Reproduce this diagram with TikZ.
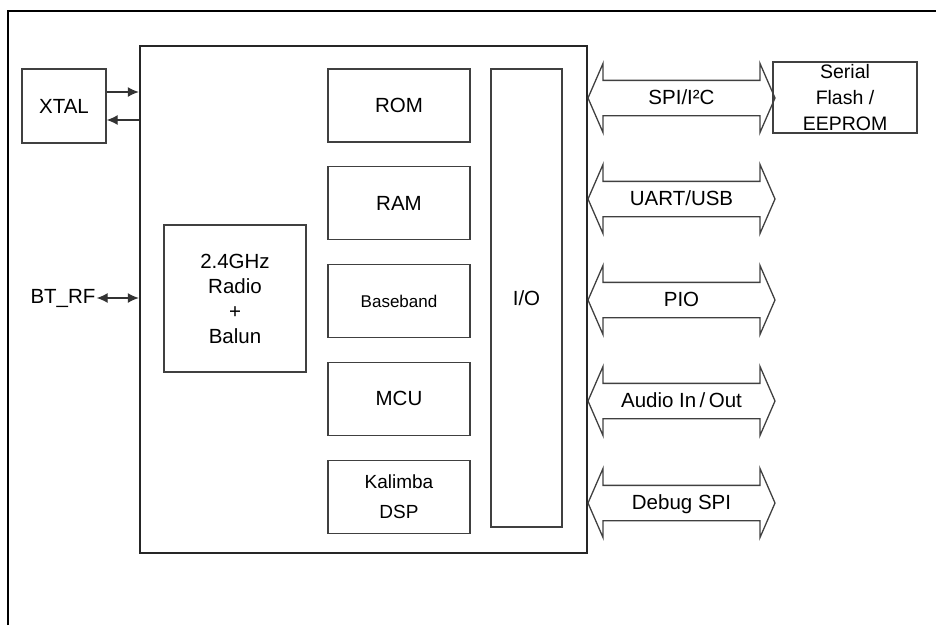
\documentclass[tikz,border=0pt]{standalone}
\usepackage{fontspec}
\setmainfont{Liberation Sans}
\usetikzlibrary{arrows.meta, positioning, shapes.arrows}

\begin{document}
\begin{tikzpicture}[x=1pt, y=-1pt,
    block/.style = {rectangle, draw=black!75, line width=1.3pt, inner sep=0pt,
                    align=center, font=\fontsize{20.5}{25}\selectfont},
    chipbox/.style = {rectangle, draw=black!85, line width=2.4pt, inner sep=0pt,
                      minimum width=447pt, minimum height=507pt},
    memblock/.style = {block, minimum width=142pt, minimum height=73pt},
    bus/.style = {double arrow, draw=black!75, line width=1.3pt, inner xsep=0pt,
                  inner ysep=8.5pt, text height=15pt, text depth=2pt,
                  minimum height=187pt, minimum width=69pt,
                  double arrow head extend=17pt, double arrow tip angle=133,
                  font=\fontsize{20.5}{22}\selectfont},
    sig/.style = {-{Latex[length=11pt, width=10pt]}, line width=1.3pt, black!80},
]
\useasboundingbox (0,0) rectangle (936,625);

%% ---- Page frame ----
\draw[line width=1.3pt] (8,625) -- (8,11) -- (936,11);

%% ---- Chip outline ----
\node[chipbox] (chip) at (363.5, 299.5) {};

%% ---- Left side: crystal and RF ----
\node[block, minimum width=84pt, minimum height=74pt] (xtal) at (64, 106) {XTAL};
\node[font=\fontsize{20.5}{22}\selectfont, inner sep=1pt] (btrf) at (63, 298) {BT\_RF};

\coordinate (xo) at ([yshift=14pt]xtal.east);
\coordinate (xi) at ([yshift=-14pt]xtal.east);
\draw[sig] (xo) -- (xo -| chip.west);
\draw[sig] (xi -| chip.west) -- (xi);
\draw[sig, {Latex[length=11pt, width=10pt]}-{Latex[length=11pt, width=10pt]}]
    (btrf.east) -- (btrf.east -| chip.west);

%% ---- Inside the chip ----
\node[block, minimum width=142pt, minimum height=147pt] (radio) at (235, 298.5)
    {2.4GHz\\Radio\\+\\Balun};

\node[memblock] (rom) at (399, 105.5) {ROM};
\node[memblock, below=23.5pt of rom] (ram) {RAM};
\node[memblock, below=23.5pt of ram, font=\fontsize{17}{20}\selectfont] (bb) {Baseband};
\node[memblock, below=23.5pt of bb] (mcu) {MCU};
\node[memblock, below=23.5pt of mcu, font=\fontsize{19}{30}\selectfont] (dsp) {Kalimba\\DSP};

\node[block, minimum width=71pt, minimum height=458pt] (io) at (526.5, 298) {I/O};

%% ---- Interface buses ----
\node[bus] (spi)   at (681.5, 98)  {SPI/I²C};
\node[bus] (uart)  at (681.5, 199) {UART/USB};
\node[bus] (pio)   at (681.5, 300) {PIO};
\node[bus] (audio) at (681.5, 401) {Audio In\,/\,Out};
\node[bus] (dbg)   at (681.5, 503) {Debug SPI};

%% ---- External memory ----
\node[block, minimum width=144pt, minimum height=71pt,
      font=\fontsize{19.5}{26}\selectfont] (flash) at (845, 97.5)
    {Serial\\Flash /\\EEPROM};

\end{tikzpicture}
\end{document}
